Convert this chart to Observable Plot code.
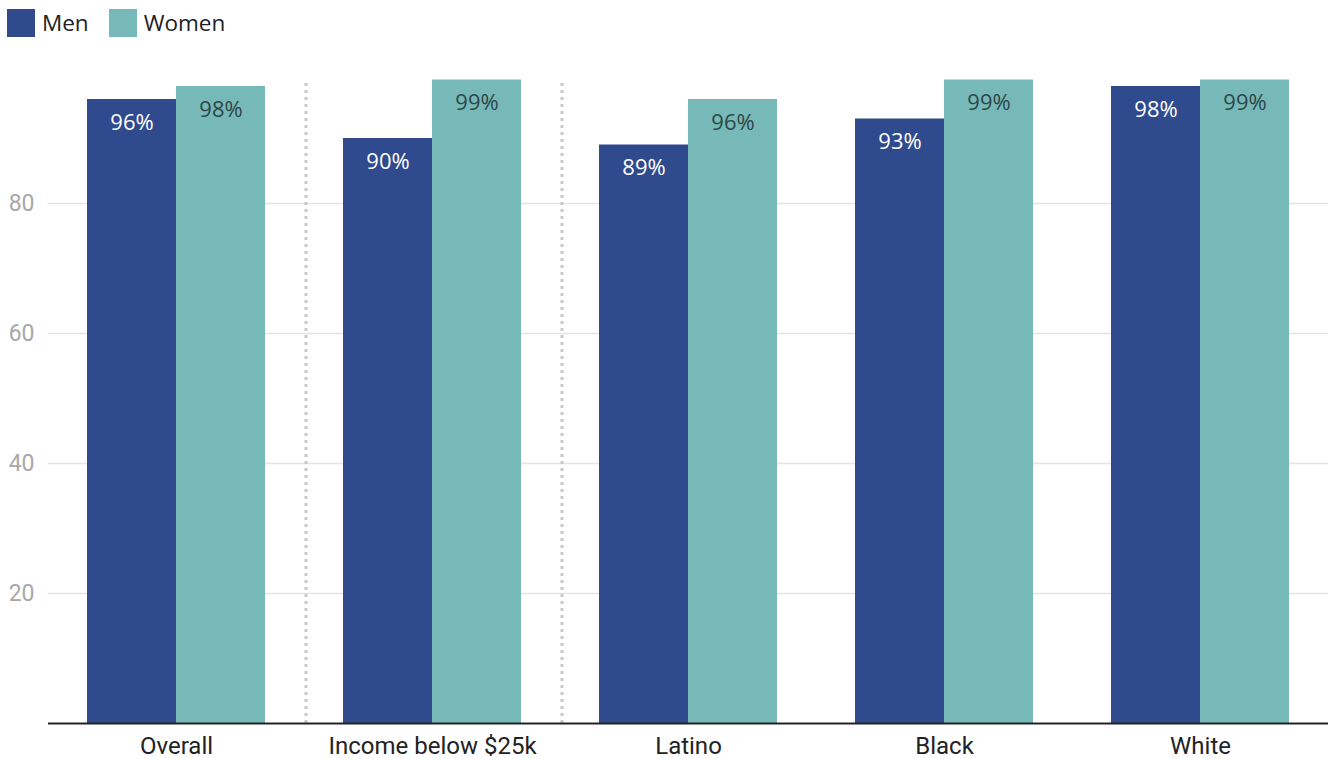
<!DOCTYPE html>
<html>
<head>
<meta charset="utf-8">
<script src="https://cdn.jsdelivr.net/npm/d3@7"></script>
<script src="https://cdn.jsdelivr.net/npm/@observablehq/plot@0.6"></script>
<style>
  body { margin: 0; background: #fff; }
  #legend {
    height: 45px; box-sizing: border-box; padding: 0 0 0 7px;
    display: flex; align-items: center;
    font-family: "Open Sans", sans-serif; font-size: 22.5px; color: #222;
  }
  #legend .item { display: flex; align-items: center; margin-right: 20px; }
  #legend .sw { width: 28px; height: 28px; margin-right: 7px; }
</style>
</head>
<body>
<div id="legend"></div>
<div id="chart"></div>
<script>
// Share of respondents, by group and gender (percent)
const groups = ["Overall", "Income below $25k", "Latino", "Black", "White"];
const genders = ["Men", "Women"];
const men = [96, 90, 89, 93, 98];
const women = [98, 99, 96, 99, 99];
const yTicks = [20, 40, 60, 80];
const dividers = ["Income below $25k", "Latino"];
const colors = ["#2f4a8d", "#76b9b8"];
const labelColors = ["#ffffff", "#2e4646"];

const rows = groups.flatMap((g, i) => [
  {group: g, gender: "Men", value: men[i]},
  {group: g, gender: "Women", value: women[i]}
]);

// legend
const legend = document.getElementById("legend");
genders.forEach((g, i) => {
  const item = document.createElement("div");
  item.className = "item";
  const sw = document.createElement("div");
  sw.className = "sw";
  sw.style.background = colors[i];
  const label = document.createElement("span");
  label.textContent = g;
  item.append(sw, label);
  legend.append(item);
});

const valueLabel = (gender, i) =>
  Plot.text(rows.filter(d => d.gender === gender), {
    fx: "group", x: "gender", y: "value",
    text: d => d.value + "%",
    dy: 23,
    fill: labelColors[i],
    fontFamily: "Open Sans",
    fontSize: 22
  });

const chart = Plot.plot({
  width: 1329,
  height: 714,
  marginTop: 28,
  marginBottom: 36,
  marginLeft: 47,
  marginRight: 0,
  style: {fontFamily: "Roboto", fontSize: "24px", background: "#fff"},
  fx: {domain: groups, padding: 0, label: null},
  x: {domain: genders, paddingInner: 0, paddingOuter: 0.43, axis: null},
  y: {domain: [0, 100], label: null},
  color: {domain: genders, range: colors},
  marks: [
    Plot.ruleY(yTicks, {stroke: "#e4e4e4", strokeWidth: 1.5}),
    Plot.axisY({ticks: yTicks, tickSize: 0, tickPadding: 14, color: "#a8a8a8", fontSize: 23, label: null}),
    Plot.axisFx({anchor: "bottom", tickSize: 0, tickPadding: 13, color: "#222", fontSize: 24, label: null}),
    Plot.ruleX(dividers, {
      fx: d => d, x: () => "Men", y1: 0, y2: 98.6, dx: -82,
      stroke: "#c8c8c8", strokeWidth: 3, strokeDasharray: "3,4"
    }),
    Plot.barY(rows, {fx: "group", x: "gender", y: "value", fill: "gender"}),
    valueLabel("Men", 0),
    valueLabel("Women", 1),
    Plot.ruleY([0], {stroke: "#222", strokeWidth: 2})
  ]
});
document.getElementById("chart").append(chart);
</script>
</body>
</html>
